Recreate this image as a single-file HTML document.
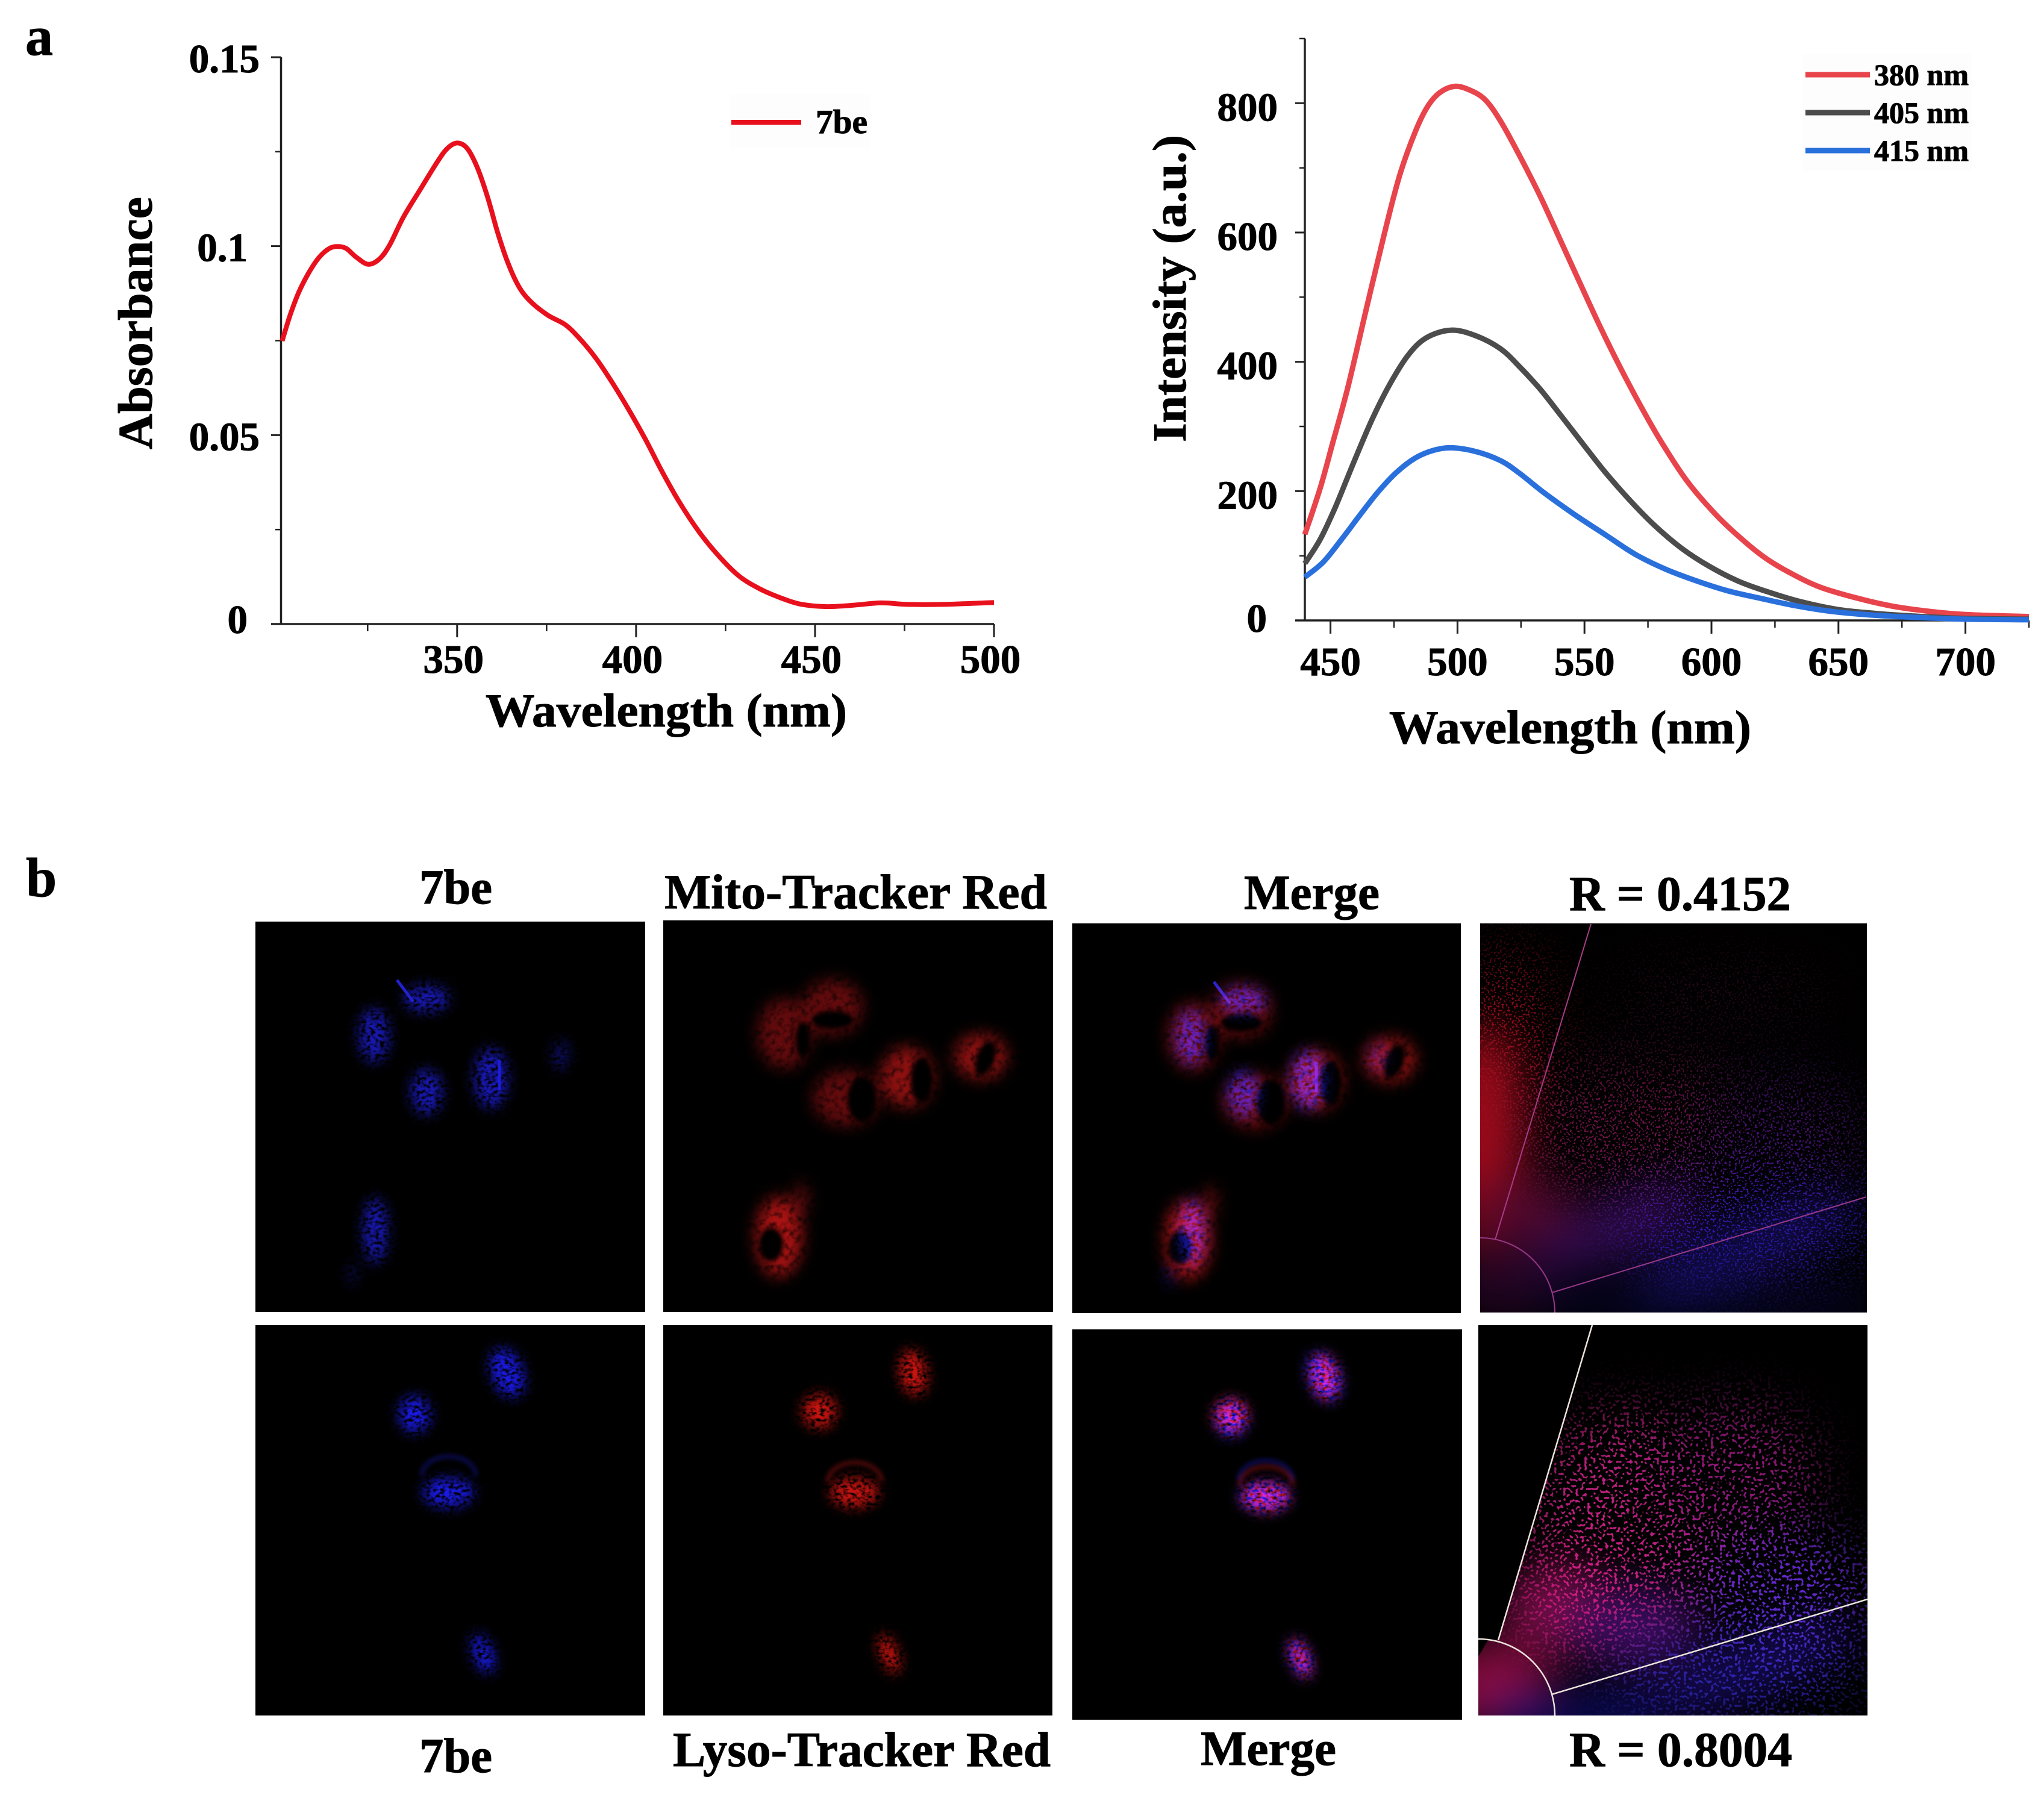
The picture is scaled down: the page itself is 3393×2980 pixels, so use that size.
<!DOCTYPE html>
<html lang="en">
<head>
<meta charset="utf-8">
<title>7be absorbance, emission and colocalization figure</title>
<style>
html,body{margin:0;padding:0;background:#fff;}
svg{display:block;position:absolute;left:0;top:0;}
text{font-family:"Liberation Serif",serif;font-weight:bold;fill:#000;stroke:#000;stroke-width:1;}
</style>
</head>
<body>
<svg id="figure" xmlns="http://www.w3.org/2000/svg" width="3393" height="2980" viewBox="0 0 3393 2980">
<defs>
  <filter id="cellSpeck" filterUnits="userSpaceOnUse" x="0" y="1500" width="3393" height="1400" color-interpolation-filters="sRGB">
    <feGaussianBlur in="SourceGraphic" stdDeviation="11" result="b"/>
    <feTurbulence type="fractalNoise" baseFrequency="0.13 0.18" numOctaves="2" seed="4" result="n"/>
    <feColorMatrix in="n" type="matrix" values="0 0 0 0 0  0 0 0 0 0  0 0 0 0 0  3.2 0 0 0 -0.85" result="m"/>
    <feComposite in="b" in2="m" operator="in"/>
  </filter>
  <filter id="softCell" filterUnits="userSpaceOnUse" x="0" y="1500" width="3393" height="1400" color-interpolation-filters="sRGB">
    <feGaussianBlur stdDeviation="13" result="b"/>
    <feTurbulence type="fractalNoise" baseFrequency="0.1" numOctaves="2" seed="9" result="n"/>
    <feColorMatrix in="n" type="matrix" values="0 0 0 0 0  0 0 0 0 0  0 0 0 0 0  1.6 0 0 0 0.1" result="m"/>
    <feComposite in="b" in2="m" operator="in"/>
  </filter>
  <filter id="nucleus" filterUnits="userSpaceOnUse" x="0" y="1500" width="3393" height="1400" color-interpolation-filters="sRGB">
    <feGaussianBlur stdDeviation="4"/>
  </filter>
  <filter id="glow" filterUnits="userSpaceOnUse" x="2300" y="1500" width="1000" height="1400" color-interpolation-filters="sRGB">
    <feGaussianBlur stdDeviation="38"/>
  </filter>
  <filter id="dots1" filterUnits="userSpaceOnUse" x="2400" y="1500" width="800" height="720" color-interpolation-filters="sRGB">
    <feGaussianBlur in="SourceGraphic" stdDeviation="50" result="b"/>
    <feTurbulence type="fractalNoise" baseFrequency="0.3" numOctaves="1" seed="7" result="n"/>
    <feColorMatrix in="n" type="matrix" values="0 0 0 0 0  0 0 0 0 0  0 0 0 0 0  14 0 0 0 -7.8" result="m"/>
    <feComposite in="b" in2="m" operator="in"/>
  </filter>
  <filter id="dots2" filterUnits="userSpaceOnUse" x="2400" y="2190" width="800" height="680" color-interpolation-filters="sRGB">
    <feGaussianBlur in="SourceGraphic" stdDeviation="45" result="b"/>
    <feTurbulence type="fractalNoise" baseFrequency="0.2" numOctaves="1" seed="11" result="n"/>
    <feColorMatrix in="n" type="matrix" values="0 0 0 0 0  0 0 0 0 0  0 0 0 0 0  14 0 0 0 -7.8" result="m"/>
    <feComposite in="b" in2="m" operator="in"/>
  </filter>
  <clipPath id="clipScatter1"><rect x="2457" y="1533" width="642" height="646"/></clipPath>
  <clipPath id="clipScatter2"><rect x="2454" y="2200" width="646" height="648"/></clipPath>

  <g id="blueCells1">
    <g filter="url(#cellSpeck)" fill="#1818b4">
      <ellipse cx="621" cy="1719" rx="25" ry="45"/>
      <ellipse cx="708" cy="1658" rx="38" ry="22"/>
      <ellipse cx="708" cy="1813" rx="26" ry="38"/>
      <ellipse cx="815" cy="1790" rx="28" ry="50"/>
      <ellipse cx="931" cy="1752" rx="14" ry="26" opacity=".55"/>
      <ellipse cx="623" cy="2043" rx="20" ry="55"/>
      <ellipse cx="585" cy="2115" rx="6" ry="20" opacity=".6"/>
    </g>
    <line x1="659" y1="1627" x2="686" y2="1663" stroke="#2222cc" stroke-width="5"/>
    <line x1="829" y1="1760" x2="829" y2="1810" stroke="#1c1cdd" stroke-width="5"/>
  </g>
  <g id="redCells1">
    <g filter="url(#softCell)" fill="#620a0c">
      <ellipse cx="1302" cy="1716" rx="44" ry="58"/>
      <ellipse cx="1382" cy="1672" rx="50" ry="46"/>
      <ellipse cx="1404" cy="1823" rx="54" ry="46"/>
      <ellipse cx="1505" cy="1788" rx="44" ry="50" fill="#8c1010"/>
      <ellipse cx="1628" cy="1754" rx="44" ry="38" fill="#8a1010"/>
      <ellipse cx="1293" cy="2053" rx="38" ry="66" fill="#a81212"/>
      <ellipse cx="1330" cy="1990" rx="12" ry="28" fill="#5a0a0c"/>
    </g>
    <g filter="url(#nucleus)" fill="#000">
      <ellipse cx="1333" cy="1726" rx="12" ry="30"/>
      <ellipse cx="1382" cy="1693" rx="34" ry="15"/>
      <ellipse cx="1431" cy="1825" rx="24" ry="38"/>
      <ellipse cx="1530" cy="1793" rx="18" ry="38"/>
      <ellipse cx="1636" cy="1757" rx="15" ry="30" transform="rotate(20 1636 1757)"/>
      <ellipse cx="1280" cy="2066" rx="20" ry="28"/>
    </g>
  </g>
  <g id="blueCells2">
    <g filter="url(#cellSpeck)" fill="#1a1ae8">
      <ellipse cx="842" cy="2279" rx="26" ry="42" transform="rotate(-20 842 2279)"/>
      <ellipse cx="688" cy="2348" rx="26" ry="30"/>
      <ellipse cx="744" cy="2478" rx="42" ry="24"/>
      <ellipse cx="802" cy="2746" rx="16" ry="34" transform="rotate(-20 802 2746)"/>
    </g>
    <path d="M700 2450 A45 32 0 0 1 790 2450" fill="none" stroke="#0e0e70" stroke-width="5" filter="url(#nucleus)"/>
  </g>
  <g id="redCells2">
    <g filter="url(#cellSpeck)" fill="#d01410">
      <ellipse cx="1516" cy="2279" rx="22" ry="38" transform="rotate(-10 1516 2279)"/>
      <ellipse cx="1360" cy="2343" rx="28" ry="28"/>
      <ellipse cx="1418" cy="2478" rx="40" ry="24"/>
      <ellipse cx="1476" cy="2746" rx="14" ry="34" transform="rotate(-20 1476 2746)"/>
    </g>
    <path d="M1374 2460 A45 32 0 0 1 1464 2460" fill="none" stroke="#700c0c" stroke-width="5" filter="url(#nucleus)"/>
  </g>
</defs>

<rect x="0" y="0" width="3393" height="2980" fill="#fff"/>

<text x="42" y="91" font-size="92">a</text>
<text x="43" y="1488" font-size="92">b</text>

<g id="absChart"></g>
<g id="emChart"></g>

<text transform="translate(252,746) rotate(-90)" font-size="80" textLength="419" lengthAdjust="spacingAndGlyphs">Absorbance</text>
<text x="806" y="1206" font-size="78" textLength="600" lengthAdjust="spacingAndGlyphs">Wavelength (nm)</text>
<text transform="translate(1968,734) rotate(-90)" font-size="78" textLength="510" lengthAdjust="spacingAndGlyphs">Intensity (a.u.)</text>
<text x="2306" y="1234" font-size="78" textLength="601" lengthAdjust="spacingAndGlyphs">Wavelength (nm)</text>

<g>
  <rect x="1211" y="156" width="234" height="89" fill="#fdfdfd"/>
  <line x1="1214" y1="203" x2="1330" y2="203" stroke="#e8101c" stroke-width="8"/>
  <text x="1354" y="221" font-size="56" textLength="86" lengthAdjust="spacingAndGlyphs">7be</text>
</g>

<g>
  <rect x="2992" y="90" width="282" height="194" fill="#fdfdfd"/>
  <line x1="2997" y1="124" x2="3104" y2="124" stroke="#e8444c" stroke-width="9"/>
  <text x="3111" y="141" font-size="50" textLength="157" lengthAdjust="spacingAndGlyphs">380 nm</text>
  <line x1="2997" y1="187" x2="3104" y2="187" stroke="#4c4c4c" stroke-width="9"/>
  <text x="3111" y="204" font-size="50" textLength="157" lengthAdjust="spacingAndGlyphs">405 nm</text>
  <line x1="2997" y1="250" x2="3104" y2="250" stroke="#2a70dc" stroke-width="9"/>
  <text x="3111" y="267" font-size="50" textLength="157" lengthAdjust="spacingAndGlyphs">415 nm</text>
</g>

<!-- Panel b titles -->
<text x="696" y="1500" font-size="82" textLength="121" lengthAdjust="spacingAndGlyphs">7be</text>
<text x="1103" y="1508" font-size="82" textLength="635" lengthAdjust="spacingAndGlyphs">Mito-Tracker Red</text>
<text x="2065" y="1509" font-size="82" textLength="225" lengthAdjust="spacingAndGlyphs">Merge</text>
<text x="2605" y="1511" font-size="82" textLength="368" lengthAdjust="spacingAndGlyphs">R = 0.4152</text>
<text x="696" y="2942" font-size="82" textLength="121" lengthAdjust="spacingAndGlyphs">7be</text>
<text x="1117" y="2932" font-size="82" textLength="627" lengthAdjust="spacingAndGlyphs">Lyso-Tracker Red</text>
<text x="1993" y="2930" font-size="82" textLength="225" lengthAdjust="spacingAndGlyphs">Merge</text>
<text x="2605" y="2932" font-size="82" textLength="370" lengthAdjust="spacingAndGlyphs">R = 0.8004</text>

<!-- Row 1 micrographs -->
<g>
  <rect x="424" y="1530" width="647" height="648" fill="#000"/>
  <use href="#blueCells1"/>
</g>
<g>
  <rect x="1101" y="1528" width="647" height="650" fill="#000"/>
  <use href="#redCells1"/>
</g>
<g>
  <rect x="1780" y="1533" width="645" height="647" fill="#000"/>
  <g style="mix-blend-mode:screen"><use href="#redCells1" transform="translate(679,5)"/></g>
  <g style="mix-blend-mode:screen"><use href="#blueCells1" transform="translate(1356,3)"/></g>
</g>

<!-- Row 1 colocalization -->
<g clip-path="url(#clipScatter1)">
  <rect x="2457" y="1533" width="642" height="646" fill="#000"/>
  <g filter="url(#glow)">
    <ellipse cx="2462" cy="1890" rx="65" ry="190" fill="#a00a1a"/>
    <ellipse cx="2530" cy="2010" rx="85" ry="55" fill="#52082c"/>
    <ellipse cx="2490" cy="2130" rx="90" ry="60" fill="#220422"/>
    <ellipse cx="2680" cy="2040" rx="150" ry="45" fill="#300a50" transform="rotate(-22 2680 2040)"/>
    <ellipse cx="2900" cy="2070" rx="200" ry="45" fill="#120c50" transform="rotate(-22 2900 2070)"/>
    <rect x="2560" y="2150" width="540" height="40" fill="#060630"/>
  </g>
  <g filter="url(#dots1)">
    <ellipse cx="2500" cy="1720" rx="70" ry="150" fill="#a81020"/>
    <ellipse cx="2720" cy="1880" rx="220" ry="120" fill="#701448"/>
    <ellipse cx="2960" cy="1890" rx="140" ry="110" fill="#481070"/>
    <ellipse cx="2900" cy="2040" rx="230" ry="85" fill="#3018b0"/>
    <ellipse cx="2850" cy="1650" rx="200" ry="50" fill="#2c0a1c"/>
  </g>
  <line x1="2482" y1="2058" x2="2641" y2="1534" stroke="#a83c88" stroke-width="2"/>
  <line x1="2576" y1="2146" x2="3098" y2="1987" stroke="#983888" stroke-width="2"/>
  <circle cx="2457" cy="2179" r="124" fill="none" stroke="#983888" stroke-width="2"/>
</g>

<!-- Row 2 micrographs -->
<g>
  <rect x="424" y="2200" width="647" height="648" fill="#000"/>
  <use href="#blueCells2"/>
</g>
<g>
  <rect x="1101" y="2200" width="646" height="648" fill="#000"/>
  <use href="#redCells2"/>
</g>
<g>
  <rect x="1780" y="2207" width="647" height="648" fill="#000"/>
  <g style="mix-blend-mode:screen"><use href="#redCells2" transform="translate(683,7)"/></g>
  <g style="mix-blend-mode:screen"><use href="#blueCells2" transform="translate(1356,7)"/></g>
</g>

<!-- Row 2 colocalization -->
<g clip-path="url(#clipScatter2)">
  <rect x="2454" y="2200" width="646" height="648" fill="#000"/>
  <g filter="url(#glow)">
    <ellipse cx="2480" cy="2800" rx="95" ry="75" fill="#8a0c40"/>
    <ellipse cx="2590" cy="2670" rx="90" ry="70" fill="#7a0e48"/>
    <ellipse cx="2710" cy="2700" rx="110" ry="65" fill="#3a0c60"/>
    <ellipse cx="2900" cy="2770" rx="190" ry="45" fill="#140a58" transform="rotate(-22 2900 2770)"/>
    <rect x="2480" y="2828" width="260" height="40" fill="#12109a"/>
  </g>
  <g filter="url(#dots2)">
    <ellipse cx="2700" cy="2520" rx="170" ry="180" fill="#c02080"/>
    <ellipse cx="2880" cy="2450" rx="140" ry="120" fill="#901878"/>
    <ellipse cx="2960" cy="2640" rx="150" ry="100" fill="#6428d0"/>
    <ellipse cx="2880" cy="2780" rx="220" ry="60" fill="#3028b8"/>
    <ellipse cx="2620" cy="2650" rx="100" ry="90" fill="#d01c80"/>
  </g>
  <polygon points="2454,2200 2643,2200 2487,2723 2470,2723 2454,2750" fill="#000"/>
  <line x1="2487" y1="2723" x2="2643" y2="2200" stroke="#ece4dc" stroke-width="2.5"/>
  <line x1="2576" y1="2813" x2="3100" y2="2655" stroke="#ece4dc" stroke-width="2.5"/>
  <circle cx="2454" cy="2848" r="127" fill="none" stroke="#ece4dc" stroke-width="2.5"/>
</g>
</svg>

<script>
// Absorbance chart data
var absWavelengths = [301.1,303.4,305.8,308.7,311.5,314.3,316.6,319.0,321.8,325.2,328.4,331.2,335.0,339.7,344.4,347.2,350.0,352.8,355.6,358.5,361.3,364.1,367.3,370.7,375.4,380.1,383.8,388.5,393.2,397.9,402.6,407.3,412.0,417.6,423.3,428.9,434.6,440.2,445.8,453.3,460.9,468.4,475.9,485.3,500.0];
var absValues = [0.0749,0.0819,0.0879,0.0932,0.0971,0.0994,0.0999,0.0994,0.0971,0.0952,0.0967,0.1004,0.1077,0.1150,0.1222,0.1258,0.1273,0.1259,0.1209,0.1130,0.1037,0.0958,0.0892,0.0852,0.0817,0.0793,0.0760,0.0707,0.0641,0.0568,0.0489,0.0403,0.0324,0.0244,0.0178,0.0126,0.0093,0.0070,0.0053,0.0046,0.0050,0.0056,0.0052,0.0052,0.0057];
var absXTicks = [350,400,450,500];
var absXMinorTicks = [325,375,425,475];
var absYTicks = [0,0.05,0.1,0.15];
var absYTickLabels = ["0","0.05","0.1","0.15"];
var absYMinorTicks = [0.025,0.075,0.125];

// Emission chart data
var em380Wavelengths = [439.9,445.9,450.7,456.8,464.0,471.2,477.2,483.3,488.1,492.9,498.9,505.0,511.0,517.0,524.3,532.7,541.1,549.6,556.8,564.0,572.5,580.9,590.5,601.4,611.0,620.7,630.3,642.4,656.8,671.3,685.8,700.2,725.0];
var em380Values = [133,204,272,360,480,598,688,755,794,816,826,820,805,772,720,655,583,510,449,392,329,272,215,165,129,98,75,52,35,22,14,9,6];
var em405Wavelengths = [439.9,445.9,451.9,459.2,466.4,473.6,480.9,488.1,497.7,507.4,517.0,524.3,532.7,541.1,549.6,558.0,567.6,577.3,588.1,599.0,611.0,623.1,635.1,649.6,664.1,678.5,700.2,725.0];
var em405Values = [88,125,175,245,311,367,412,438,449,440,420,393,357,315,272,230,187,148,112,84,60,43,29,17,11,7,3,2];
var em415Wavelengths = [439.9,447.1,454.3,461.6,468.8,476.0,483.3,490.5,497.7,507.4,517.0,524.3,533.9,546.0,558.0,570.1,582.1,594.2,606.2,618.3,632.7,647.2,664.1,678.5,700.2,725.0];
var em415Values = [67,90,125,163,199,229,251,263,267,261,247,228,198,164,133,102,79,61,46,35,23,14,8,5,2,1];
var emXTicks = [450,500,550,600,650,700];
var emXMinorTicks = [475,525,575,625,675,725];
var emYTicks = [0,200,400,600,800];
var emYMinorTicks = [100,300,500,700,900];

var NS = 'http://www.w3.org/2000/svg';

function linear(d0, d1, r0, r1) {
  return function (v) { return r0 + (v - d0) * (r1 - r0) / (d1 - d0); };
}
function make(parent, tag, props) {
  var el = document.createElementNS(NS, tag);
  for (var k in props) { el.setAttribute(k, props[k]); }
  parent.appendChild(el);
  return el;
}
function smoothPath(xs, ys, sx, sy) {
  var pts = xs.map(function (x, i) { return [sx(x), sy(ys[i])]; });
  var d = 'M' + pts[0][0].toFixed(1) + ' ' + pts[0][1].toFixed(1);
  for (var i = 0; i < pts.length - 1; i++) {
    var p0 = pts[Math.max(i - 1, 0)], p1 = pts[i], p2 = pts[i + 1], p3 = pts[Math.min(i + 2, pts.length - 1)];
    var c1x = p1[0] + (p2[0] - p0[0]) / 6, c1y = p1[1] + (p2[1] - p0[1]) / 6;
    var c2x = p2[0] - (p3[0] - p1[0]) / 6, c2y = p2[1] - (p3[1] - p1[1]) / 6;
    d += 'C' + c1x.toFixed(1) + ' ' + c1y.toFixed(1) + ' ' + c2x.toFixed(1) + ' ' + c2y.toFixed(1) + ' ' + p2[0].toFixed(1) + ' ' + p2[1].toFixed(1);
  }
  return d;
}

// ---------- Absorbance chart ----------
(function () {
  var g = document.getElementById('absChart');
  var sx = linear(300.8, 500, 466.5, 1650);
  var sy = linear(0, 0.15, 1036, 95);
  var ax, el;

  ax = make(g, 'line', {x1: 466.5, y1: 95, x2: 466.5, y2: 1036, stroke: '#222', 'stroke-width': 3.5});
  
  
  ax = make(g, 'line', {x1: 450, y1: 1036, x2: 1650, y2: 1036, stroke: '#222', 'stroke-width': 3.5});
  
  

  absXTicks.forEach(function (t) {
    var tick = make(g, 'line', {x1: sx(t), y1: 1036, x2: sx(t), y2: 1058, stroke: '#222', 'stroke-width': 3});
    
    
    var label = make(g, 'text', {x: sx(t) - 6, y: 1117, 'font-size': 67, 'text-anchor': 'middle'});
    label.textContent = String(t);
    
    
  });
  absXMinorTicks.forEach(function (t) {
    var tick = make(g, 'line', {x1: sx(t), y1: 1036, x2: sx(t), y2: 1048, stroke: '#222', 'stroke-width': 2.5});
    
    
  });
  absYTicks.forEach(function (t, idx) {
    var tick = make(g, 'line', {x1: 450, y1: sy(t), x2: 466.5, y2: sy(t), stroke: '#222', 'stroke-width': 3});
    
    
    var text = absYTickLabels[idx];
    var label = make(g, 'text', {x: text.length >= 4 ? 431 : 411, y: t === 0 ? sy(t) + 15 : sy(t) + 25, 'font-size': 67, 'text-anchor': 'end'});
    label.textContent = text;
    
    
  });
  absYMinorTicks.forEach(function (t) {
    var tick = make(g, 'line', {x1: 457, y1: sy(t), x2: 466.5, y2: sy(t), stroke: '#222', 'stroke-width': 2.5});
    
    
  });

  el = make(g, 'path', {d: smoothPath(absWavelengths, absValues, sx, sy), fill: 'none', stroke: '#e8101c', 'stroke-width': 8, 'stroke-linejoin': 'round'});
  
  
})();

// ---------- Emission chart ----------
(function () {
  var g = document.getElementById('emChart');
  var sx = linear(439.9, 725, 2166, 3368);
  var sy = linear(0, 900, 1030, 64);
  var ax, el;

  ax = make(g, 'line', {x1: 2166, y1: 64, x2: 2166, y2: 1030, stroke: '#222', 'stroke-width': 3.5});
  
  
  ax = make(g, 'line', {x1: 2150, y1: 1030, x2: 3368, y2: 1030, stroke: '#222', 'stroke-width': 3.5});
  
  

  emXTicks.forEach(function (t) {
    var tick = make(g, 'line', {x1: sx(t), y1: 1030, x2: sx(t), y2: 1052, stroke: '#222', 'stroke-width': 3});
    
    
    var label = make(g, 'text', {x: sx(t), y: 1121, 'font-size': 67, 'text-anchor': 'middle'});
    label.textContent = String(t);
    
    
  });
  emXMinorTicks.forEach(function (t) {
    var tick = make(g, 'line', {x1: sx(t), y1: 1030, x2: sx(t), y2: 1042, stroke: '#222', 'stroke-width': 2.5});
    
    
  });
  emYTicks.forEach(function (t) {
    var tick = make(g, 'line', {x1: 2150, y1: sy(t), x2: 2166, y2: sy(t), stroke: '#222', 'stroke-width': 3});
    
    
    var label = make(g, 'text', {x: t === 0 ? 2103 : 2121, y: t === 0 ? sy(t) + 19 : sy(t) + 29, 'font-size': 67, 'text-anchor': 'end'});
    label.textContent = String(t);
    
    
  });
  emYMinorTicks.forEach(function (t) {
    var tick = make(g, 'line', {x1: 2157, y1: sy(t), x2: 2166, y2: sy(t), stroke: '#222', 'stroke-width': 2.5});
    
    
  });

  el = make(g, 'path', {d: smoothPath(em380Wavelengths, em380Values, sx, sy), fill: 'none', stroke: '#e8444c', 'stroke-width': 9, 'stroke-linejoin': 'round'});
  
  
  el = make(g, 'path', {d: smoothPath(em405Wavelengths, em405Values, sx, sy), fill: 'none', stroke: '#4c4c4c', 'stroke-width': 9, 'stroke-linejoin': 'round'});
  
  
  el = make(g, 'path', {d: smoothPath(em415Wavelengths, em415Values, sx, sy), fill: 'none', stroke: '#2a70dc', 'stroke-width': 9, 'stroke-linejoin': 'round'});
  
  
})();
</script>
</body>
</html>
